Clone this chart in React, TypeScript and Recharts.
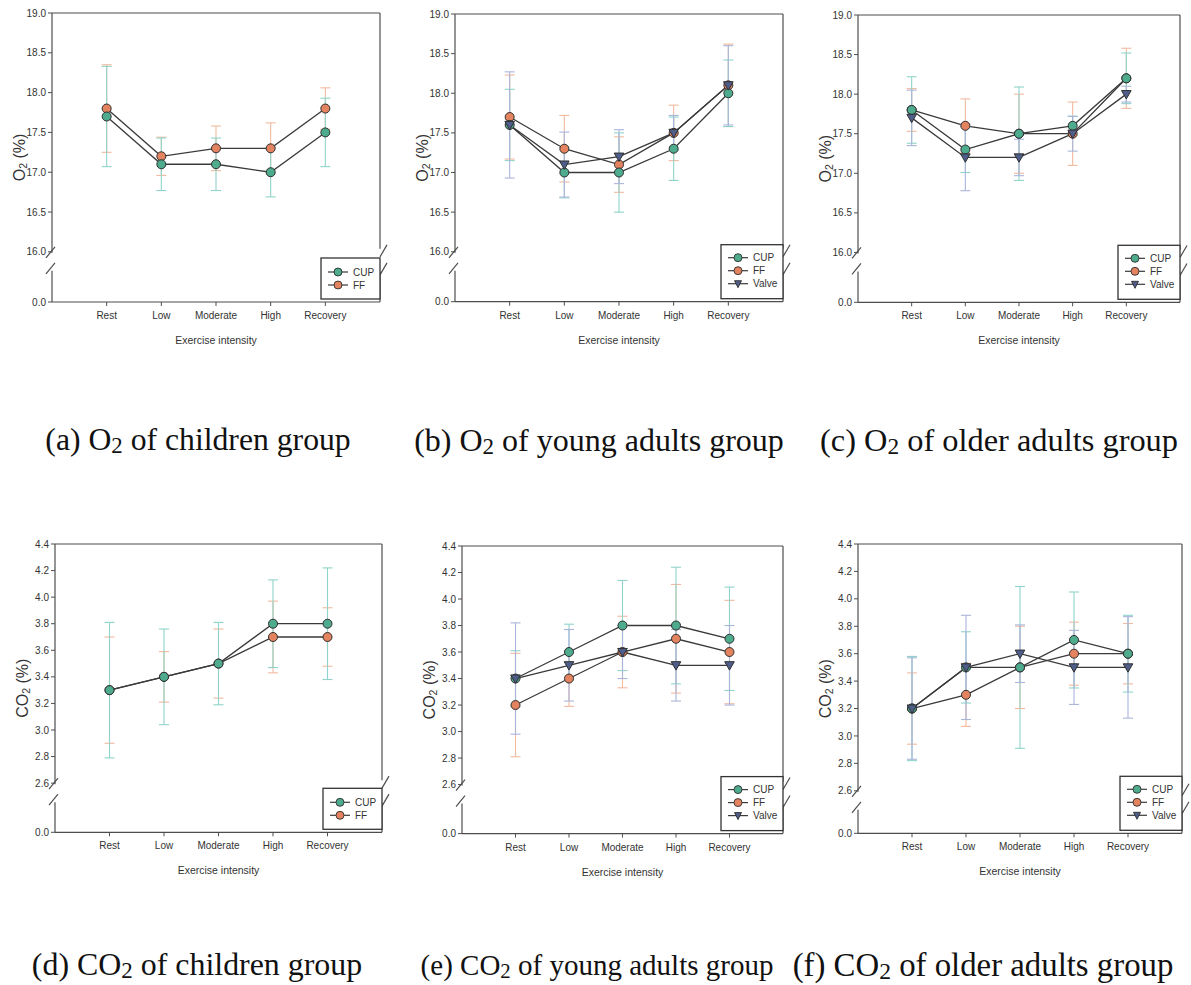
import { LineChart, Line, XAxis, YAxis, ErrorBar } from "recharts";

// categories
const stages = ["Rest", "Low", "Moderate", "High", "Recovery"];

// tick labels (upper part of the broken axis)
const o2Ticks = [16.0, 16.5, 17.0, 17.5, 18.0, 18.5, 19.0];
const co2Ticks = [2.6, 2.8, 3.0, 3.2, 3.4, 3.6, 3.8, 4.0, 4.2, 4.4];

// (a) O2 - children
const o2ChildCup = [17.7, 17.1, 17.1, 17.0, 17.5];
const o2ChildCupSd = [0.63, 0.33, 0.33, 0.31, 0.43];
const o2ChildFf = [17.8, 17.2, 17.3, 17.3, 17.8];
const o2ChildFfSd = [0.55, 0.24, 0.28, 0.32, 0.26];

// (b) O2 - young adults
const o2YoungCup = [17.6, 17.0, 17.0, 17.3, 18.0];
const o2YoungCupSd = [0.45, 0.32, 0.5, 0.4, 0.42];
const o2YoungFf = [17.7, 17.3, 17.1, 17.5, 18.1];
const o2YoungFfSd = [0.53, 0.42, 0.35, 0.35, 0.52];
const o2YoungValve = [17.6, 17.1, 17.2, 17.5, 18.1];
const o2YoungValveSd = [0.67, 0.41, 0.34, 0.22, 0.5];

// (c) O2 - older adults
const o2OldCup = [17.8, 17.3, 17.5, 17.6, 18.2];
const o2OldCupSd = [0.42, 0.29, 0.59, 0.12, 0.32];
const o2OldFf = [17.8, 17.6, 17.5, 17.5, 18.2];
const o2OldFfSd = [0.27, 0.34, 0.5, 0.4, 0.38];
const o2OldValve = [17.7, 17.2, 17.2, 17.5, 18.0];
const o2OldValveSd = [0.35, 0.42, 0.23, 0.22, 0.1];

// (d) CO2 - children
const co2ChildCup = [3.3, 3.4, 3.5, 3.8, 3.8];
const co2ChildCupSd = [0.51, 0.36, 0.31, 0.33, 0.42];
const co2ChildFf = [3.3, 3.4, 3.5, 3.7, 3.7];
const co2ChildFfSd = [0.4, 0.19, 0.26, 0.27, 0.22];

// (e) CO2 - young adults
const co2YoungCup = [3.4, 3.6, 3.8, 3.8, 3.7];
const co2YoungCupSd = [0.21, 0.21, 0.34, 0.44, 0.39];
const co2YoungFf = [3.2, 3.4, 3.6, 3.7, 3.6];
const co2YoungFfSd = [0.39, 0.21, 0.27, 0.41, 0.39];
const co2YoungValve = [3.4, 3.5, 3.6, 3.5, 3.5];
const co2YoungValveSd = [0.42, 0.27, 0.2, 0.27, 0.3];

// (f) CO2 - older adults
const co2OldCup = [3.2, 3.5, 3.5, 3.7, 3.6];
const co2OldCupSd = [0.38, 0.26, 0.59, 0.35, 0.28];
const co2OldFf = [3.2, 3.3, 3.5, 3.6, 3.6];
const co2OldFfSd = [0.26, 0.23, 0.3, 0.23, 0.22];
const co2OldValve = [3.2, 3.5, 3.6, 3.5, 3.5];
const co2OldValveSd = [0.37, 0.38, 0.21, 0.27, 0.37];

const STYLE = {
  cup: { name: "CUP", fill: "#4fab8e", bar: "#8fd4ca" },
  ff: { name: "FF", fill: "#e3835f", bar: "#f2b99e" },
  valve: { name: "Valve", fill: "#4f5d8a", bar: "#aab5dc" },
};

const AXIS = "#4d4d4d";
const SANS = '"Liberation Sans", Arial, sans-serif';
const SERIF = '"Liberation Serif", "Times New Roman", serif';

function rows(cup, cupSd, ff, ffSd, valve?, valveSd?) {
  return stages.map((name, i) => ({
    name,
    cup: cup[i],
    cupSd: cupSd[i],
    ff: ff[i],
    ffSd: ffSd[i],
    valve: valve ? valve[i] : undefined,
    valveSd: valveSd ? valveSd[i] : undefined,
  }));
}

const panels = [
  { id: "a", gas: "O", L: 52, T: 12.7, R: 380, B: 301.7, top: 19, bottom: 15.37, ticks: o2Ticks,
    data: rows(o2ChildCup, o2ChildCupSd, o2ChildFf, o2ChildFfSd), valve: false,
    caption: "of children group", capX: 198, capY: 440, capSize: 31.7 },
  { id: "b", gas: "O", L: 455, T: 14, R: 783, B: 301.7, top: 19, bottom: 15.37, ticks: o2Ticks,
    data: rows(o2YoungCup, o2YoungCupSd, o2YoungFf, o2YoungFfSd, o2YoungValve, o2YoungValveSd), valve: true,
    caption: "of young adults group", capX: 599, capY: 440, capSize: 32 },
  { id: "c", gas: "O", L: 858, T: 15, R: 1180, B: 302.3, top: 19, bottom: 15.37, ticks: o2Ticks,
    data: rows(o2OldCup, o2OldCupSd, o2OldFf, o2OldFfSd, o2OldValve, o2OldValveSd), valve: true,
    caption: "of older adults group", capX: 999, capY: 440, capSize: 32.4 },
  { id: "d", gas: "CO", L: 55, T: 544, R: 382, B: 832.3, top: 4.4, bottom: 2.23, ticks: co2Ticks,
    data: rows(co2ChildCup, co2ChildCupSd, co2ChildFf, co2ChildFfSd), valve: false,
    caption: "of children group", capX: 197, capY: 965, capSize: 31.9 },
  { id: "e", gas: "CO", L: 462, T: 545.7, R: 783, B: 833.3, top: 4.4, bottom: 2.23, ticks: co2Ticks,
    data: rows(co2YoungCup, co2YoungCupSd, co2YoungFf, co2YoungFfSd, co2YoungValve, co2YoungValveSd), valve: true,
    caption: "of young adults group", capX: 597, capY: 965, capSize: 29 },
  { id: "f", gas: "CO", L: 858, T: 544, R: 1182, B: 833.3, top: 4.4, bottom: 2.29, ticks: co2Ticks,
    data: rows(co2OldCup, co2OldCupSd, co2OldFf, co2OldFfSd, co2OldValve, co2OldValveSd), valve: true,
    caption: "of older adults group", capX: 983, capY: 965, capSize: 32.8 },
];

const circleDot = (fill: string) => (p: any) => {
  if (p.cx == null || p.cy == null) return <g key={`e-${p.index}`} />;
  return <circle key={`c-${p.index}`} cx={p.cx} cy={p.cy} r={4.5} fill={fill} stroke="#2e2e2e" strokeWidth={1} />;
};

const triDot = (fill: string) => (p: any) => {
  if (p.cx == null || p.cy == null) return <g key={`e-${p.index}`} />;
  const { cx, cy } = p;
  return (
    <path key={`t-${p.index}`} d={`M${cx - 4.8},${cy - 3.6}L${cx + 4.8},${cy - 3.6}L${cx},${cy + 4.8}Z`}
      fill={fill} stroke="#2e2e2e" strokeWidth={1} />
  );
};

function LegendBox({ x, y, keys }: { x: number; y: number; keys: string[] }) {
  const w = keys.length === 3 ? 62 : 59;
  const h = keys.length === 3 ? 54 : 41;
  const first = keys.length === 3 ? 13 : 14;
  return (
    <g>
      <rect x={x - w} y={y - h} width={w} height={h} fill="#fff" stroke="#333" strokeWidth={1.3} />
      {keys.map((k, i) => {
        const ry = y - h + first + i * 13;
        const lx = x - w;
        const s = STYLE[k];
        return (
          <g key={k}>
            <line x1={lx + 7} x2={lx + 27} y1={ry} y2={ry} stroke="#3a3a3a" strokeWidth={1.2} />
            {k === "valve" ? (
              <path d={`M${lx + 13.5},${ry - 3}L${lx + 20.5},${ry - 3}L${lx + 17},${ry + 4}Z`} fill={s.fill} stroke="#2e2e2e" strokeWidth={0.9} />
            ) : (
              <circle cx={lx + 17} cy={ry} r={4} fill={s.fill} stroke="#2e2e2e" strokeWidth={0.9} />
            )}
            <text x={lx + 32} y={ry} dy="0.35em" fontSize={10} fill="#333" fontFamily={SANS}>{s.name}</text>
          </g>
        );
      })}
    </g>
  );
}

function Panel({ cfg }: { cfg: any }) {
  const ML = 60, MT = 15, MR = 20, MB = 75, YW = 40, XH = 50;
  const pw = cfg.R - cfg.L;
  const ph = cfg.B - cfg.T;
  const W = pw + ML + MR;
  const H = ph + MT + MB;
  const R = ML + pw;
  const B = MT + ph;
  const yb = MT + ((cfg.top - cfg.ticks[0]) / (cfg.top - cfg.bottom)) * ph;
  const keys = cfg.valve ? ["cup", "ff", "valve"] : ["cup", "ff"];
  const allTicks = [cfg.bottom, ...cfg.ticks];

  return (
    <div style={{ position: "absolute", left: cfg.L - ML, top: cfg.T - MT, width: W, height: H }}>
      <LineChart width={W} height={H} data={cfg.data} margin={{ top: MT, right: MR, bottom: MB - XH, left: ML - YW }}>
        <XAxis
          dataKey="name"
          scale="point"
          padding={{ left: pw / 6, right: pw / 6 }}
          interval={0}
          height={XH}
          tickSize={4}
          tickMargin={6}
          axisLine={{ stroke: AXIS, strokeWidth: 1.2 }}
          tickLine={{ stroke: AXIS }}
          tick={{ fontSize: 10, fill: "#333", fontFamily: SANS }}
          label={{ value: "Exercise intensity", position: "insideBottom", offset: 8, fontSize: 10.5, fill: "#333", fontFamily: SANS }}
        />
        <YAxis
          type="number"
          width={YW}
          domain={[cfg.bottom, cfg.top]}
          allowDataOverflow
          ticks={allTicks}
          interval={0}
          tickSize={4}
          tickMargin={2}
          axisLine={false}
          tickLine={{ stroke: AXIS }}
          tick={{ fontSize: 10, fill: "#333", fontFamily: SANS }}
          tickFormatter={(v: number) => (v === cfg.bottom ? "0.0" : v.toFixed(1))}
        />
        <Line type="linear" dataKey="ff" stroke="#3a3a3a" strokeWidth={1.3} dot={circleDot(STYLE.ff.fill)} activeDot={false} isAnimationActive={false}>
          <ErrorBar dataKey="ffSd" width={5} stroke={STYLE.ff.bar} strokeWidth={1.1} direction="y" isAnimationActive={false} />
        </Line>
        <Line type="linear" dataKey="cup" stroke="#3a3a3a" strokeWidth={1.3} dot={circleDot(STYLE.cup.fill)} activeDot={false} isAnimationActive={false}>
          <ErrorBar dataKey="cupSd" width={5} stroke={STYLE.cup.bar} strokeWidth={1.1} direction="y" isAnimationActive={false} />
        </Line>
        {cfg.valve && (
          <Line type="linear" dataKey="valve" stroke="#3a3a3a" strokeWidth={1.3} dot={triDot(STYLE.valve.fill)} activeDot={false} isAnimationActive={false}>
            <ErrorBar dataKey="valveSd" width={5} stroke={STYLE.valve.bar} strokeWidth={1.1} direction="y" isAnimationActive={false} />
          </Line>
        )}
      </LineChart>

      {/* frame with axis breaks, legend and y label */}
      <svg width={W} height={H} style={{ position: "absolute", left: 0, top: 0, overflow: "visible", pointerEvents: "none" }}>
        <g stroke={AXIS} strokeWidth={1.2} fill="none">
          <line x1={ML} y1={MT} x2={R} y2={MT} />
          <line x1={ML} y1={MT} x2={ML} y2={yb + 1} />
          <line x1={ML} y1={yb + 19} x2={ML} y2={B} />
          <line x1={ML - 6} y1={yb + 6} x2={ML + 3} y2={yb - 5} />
          <line x1={ML - 6} y1={yb + 22} x2={ML + 3} y2={yb + 11} />
          <line x1={R} y1={MT} x2={R} y2={yb - 3} />
          <line x1={R} y1={yb + 20} x2={R} y2={B} />
          <line x1={R} y1={yb + 5} x2={R + 7} y2={yb - 7} />
          <line x1={R} y1={yb + 23} x2={R + 7} y2={yb + 11} />
        </g>
        <LegendBox x={R} y={B - 3} keys={keys} />
        <text
          transform={`translate(${ML - 33},${MT + ph / 2}) rotate(-90)`}
          textAnchor="middle"
          dominantBaseline="central"
          fontSize={16}
          fill="#333"
          fontFamily={SANS}
        >
          <tspan>{cfg.gas}</tspan>
          <tspan fontSize={10.5} dy={4}>2</tspan>
          <tspan dy={-4}> (%)</tspan>
        </text>
      </svg>
    </div>
  );
}

export default function App() {
  return (
    <div style={{ position: "absolute", left: 0, top: 0, width: 1191, height: 985, background: "#fff", overflow: "hidden" }}>
      {panels.map((p) => (
        <Panel key={p.id} cfg={p} />
      ))}
      {panels.map((p) => (
        <div
          key={`cap-${p.id}`}
          style={{
            position: "absolute",
            left: p.capX,
            top: p.capY,
            transform: "translate(-50%, -50%)",
            whiteSpace: "nowrap",
            fontFamily: SERIF,
            fontSize: p.capSize,
            lineHeight: 1,
            color: "#111",
          }}
        >
          ({p.id}) {p.gas}
          <span style={{ fontSize: "0.72em", position: "relative", top: "0.12em" }}>2</span> {p.caption}
        </div>
      ))}
    </div>
  );
}
